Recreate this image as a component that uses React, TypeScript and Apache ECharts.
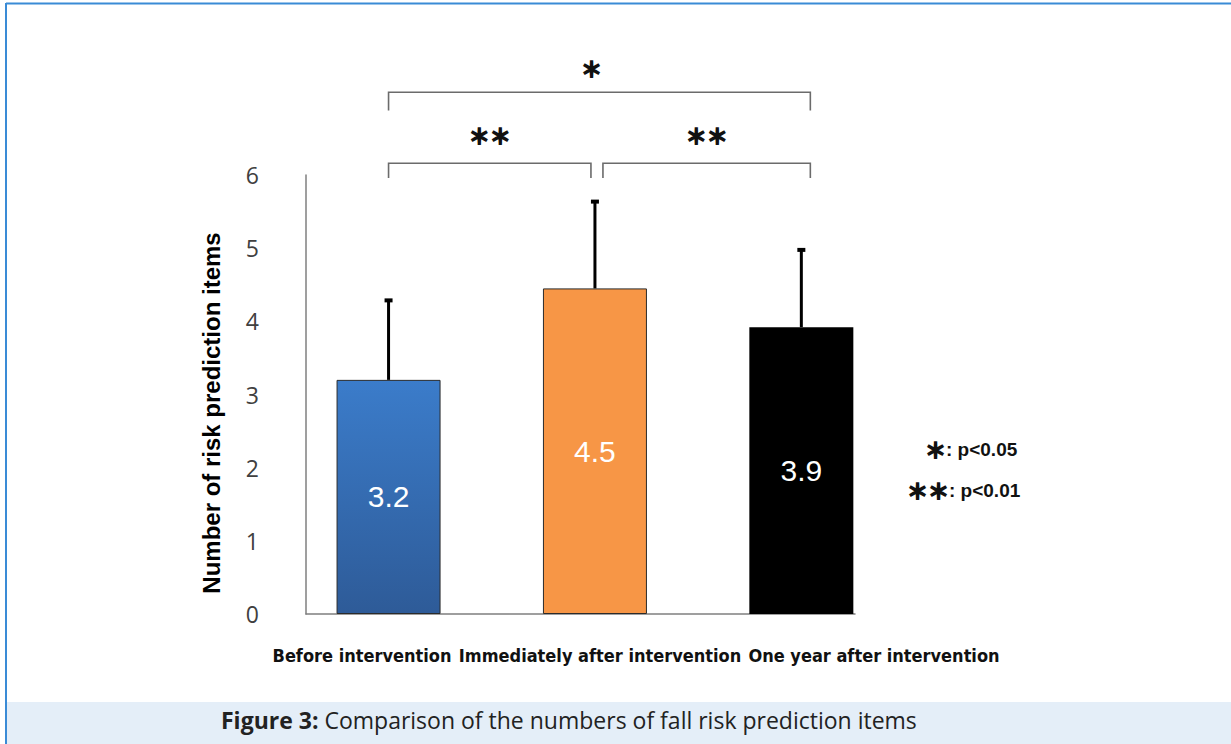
import React, { useEffect, useRef } from 'react';
import * as echarts from 'echarts';

const categories = ['Before intervention', 'Immediately after intervention', 'One year after intervention'];
const meanValues = [3.2, 4.45, 3.92];
const sdValues = [1.1, 1.2, 1.07];
const comparisons: [number, number, string][] = [
  [0, 2, '＊'],
  [0, 1, '＊＊'],
  [1, 2, '＊＊'],
];
const significanceNotes: [string, string][] = [
  ['＊', ': p<0.05'],
  ['＊＊', ': p<0.01'],
];
const yAxisTitle = 'Number of risk prediction items';
const captionBold = 'Figure 3:';
const captionRest = ' Comparison of the numbers of fall risk prediction items';

const blueFill = new echarts.graphic.LinearGradient(0, 0, 0, 1, [
  { offset: 0, color: '#3b7cca' },
  { offset: 1, color: '#2e5b98' },
]);
const barStyles = [
  { color: blueFill, borderColor: '#2b2b2b', borderWidth: 1 },
  { color: '#f79646', borderColor: '#2b2b2b', borderWidth: 1 },
  { color: '#000000', borderColor: '#000000', borderWidth: 0 },
];
const catLabelX = [362, 600, 874];
const noteX = [925, 907];
const noteY = [449, 490];

export default function App() {
  const ref = useRef<HTMLDivElement>(null);
  useEffect(() => {
    if (!ref.current) return;
    const chart = echarts.init(ref.current, null, { renderer: 'svg' });
    const option: any = {
      animation: false,
      backgroundColor: '#ffffff',
      grid: { left: 306, top: 175, width: 549, height: 439 },
      xAxis: {
        type: 'value',
        min: -0.4,
        max: 2.26,
        axisLine: { show: true, onZero: false, lineStyle: { color: '#7f7f7f', width: 1.5 } },
        axisTick: { show: false },
        axisLabel: { show: false },
        splitLine: { show: false },
      },
      yAxis: {
        type: 'value',
        min: 0,
        max: 6,
        interval: 1,
        axisLine: { show: true, onZero: false, lineStyle: { color: '#7f7f7f', width: 1.5 } },
        axisTick: { show: false },
        splitLine: { show: false },
        axisLabel: {
          margin: 47,
          fontSize: 23,
          color: '#404040',
          fontFamily: 'Open Sans',
          padding: [6, 0, 0, 0],
        },
      },
      series: [
        {
          type: 'bar',
          barWidth: 104,
          data: meanValues.map((v, i) => ({ value: [i, v], itemStyle: barStyles[i] })),
          label: {
            show: true,
            position: 'inside',
            formatter: (p: any) => Number(p.value[1]).toFixed(1),
            color: '#ffffff',
            fontSize: 30,
            fontFamily: 'Liberation Sans, Arial, sans-serif',
          },
          z: 2,
        },
        {
          type: 'custom',
          clip: false,
          z: 3,
          data: meanValues.map((m, i) => [i, m, m + sdValues[i]]),
          encode: { x: 0, y: [1, 2] },
          renderItem: (params: any, api: any) => {
            const base = api.coord([api.value(0), api.value(1)]);
            const top = api.coord([api.value(0), api.value(2)]);
            return {
              type: 'group',
              children: [
                {
                  type: 'line',
                  shape: { x1: base[0], y1: base[1], x2: top[0], y2: top[1] },
                  style: { stroke: '#000', lineWidth: 3 },
                },
                {
                  type: 'rect',
                  shape: { x: top[0] - 4, y: top[1] - 1, width: 8, height: 4 },
                  style: { fill: '#000' },
                },
              ],
            };
          },
        },
        {
          type: 'custom',
          clip: false,
          z: 3,
          data: comparisons.map((c) => [c[0], c[1]]),
          encode: { x: [0, 1] },
          renderItem: (params: any, api: any) => {
            const from = api.value(0);
            const to = api.value(1);
            const wide = to - from > 1;
            const level = wide ? 7.13 : 6.16;
            const drop = wide ? 0.25 : 0.2;
            const textLevel = wide ? 7.46 : 6.55;
            const p1 = api.coord([from, level]);
            const p2 = api.coord([to, level]);
            const yb = api.coord([from, level - drop])[1];
            const yt = api.coord([from, textLevel])[1];
            const x1 = p1[0] + (from === 1 ? 8 : 0);
            const x2 = p2[0] + (to === 2 ? 9 : to === 1 ? -4 : 0);
            const mid = (x1 + x2) / 2 + (wide ? -8 : 0);
            return {
              type: 'group',
              children: [
                {
                  type: 'polyline',
                  shape: { points: [[x1, yb], [x1, p1[1]], [x2, p1[1]], [x2, yb]] },
                  style: { stroke: '#6b6b6b', lineWidth: 1.6, fill: 'none' },
                },
                {
                  type: 'text',
                  x: mid,
                  y: yt,
                  style: {
                    text: comparisons[params.dataIndex][2],
                    align: 'center',
                    verticalAlign: 'middle',
                    fontSize: 21,
                    fontWeight: 'bold',
                    fontFamily: 'Noto Sans CJK JP',
                    fill: '#111',
                    stroke: '#111',
                    lineWidth: 1.6,
                  },
                },
              ],
            };
          },
        },
      ],
      graphic: [
        { type: 'rect', left: 7, top: 702, shape: { width: 1224, height: 42 }, style: { fill: '#e4eef8' }, silent: true },
        { type: 'line', shape: { x1: 6, y1: 3.5, x2: 1231, y2: 3.5 }, style: { stroke: '#3a8bd6', lineWidth: 2 } },
        { type: 'line', shape: { x1: 6, y1: 3, x2: 6, y2: 744 }, style: { stroke: '#3a8bd6', lineWidth: 2 } },
        {
          type: 'text',
          x: 221,
          y: 720,
          style: {
            text: `{b|${captionBold}}{n|${captionRest}}`,
            verticalAlign: 'middle',
            rich: {
              b: { fontSize: 23, fontWeight: 'bold', fontFamily: 'Open Sans', fill: '#222' },
              n: { fontSize: 23, fontFamily: 'Open Sans', fill: '#222' },
            },
          },
        },
        {
          type: 'text',
          x: 211,
          y: 413,
          rotation: Math.PI / 2,
          style: {
            text: yAxisTitle,
            align: 'center',
            verticalAlign: 'middle',
            fontSize: 24,
            fontWeight: 'bold',
            fontFamily: 'Liberation Sans, Arial, sans-serif',
            fill: '#000',
          },
        },
        ...categories.map((c, i) => ({
          type: 'text',
          x: catLabelX[i],
          y: 655,
          style: {
            text: c,
            align: 'center',
            verticalAlign: 'middle',
            fontSize: 18,
            fontWeight: 'bold',
            fontFamily: 'Liberation Sans Narrow, DejaVu Sans Condensed, sans-serif',
            fill: '#111',
          },
        })),
        ...significanceNotes.map((n, i) => ({
          type: 'text',
          x: noteX[i],
          y: noteY[i],
          style: {
            text: `{s|${n[0]}}{t|${n[1]}}`,
            verticalAlign: 'middle',
            rich: {
              s: { fontSize: 21, fontWeight: 'bold', fontFamily: 'Noto Sans CJK JP', fill: '#111', stroke: '#111', lineWidth: 1.6 },
              t: { fontSize: 19, fontWeight: 'bold', fontFamily: 'Liberation Sans, Arial, sans-serif', fill: '#111' },
            },
          },
        })),
      ],
    };
    chart.setOption(option);
    return () => chart.dispose();
  }, []);
  return <div ref={ref} style={{ position: 'fixed', left: 0, top: 0, width: 1231, height: 744 }} />;
}
